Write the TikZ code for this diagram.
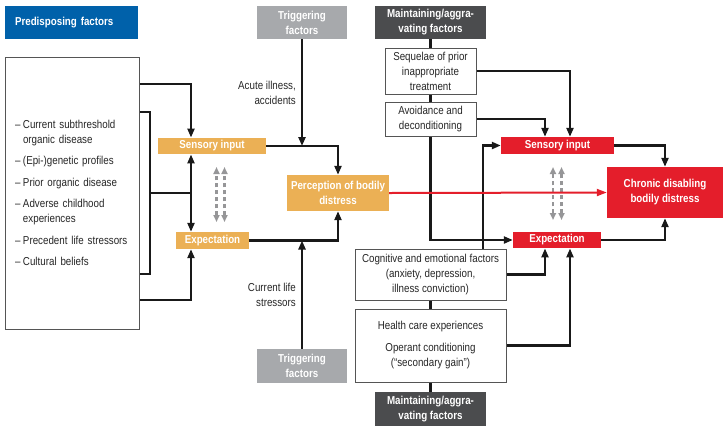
\documentclass[tikz,border=0pt]{standalone}
\usepackage{fontspec}
\setmainfont{Liberation Sans}[FakeStretch=0.85]
\usetikzlibrary{arrows.meta,calc}
\definecolor{cblue}{RGB}{0,97,170}
\definecolor{corange}{RGB}{235,176,85}
\definecolor{cred}{RGB}{228,30,43}
\definecolor{cgrayL}{RGB}{167,169,172}
\definecolor{cgrayD}{RGB}{75,76,78}
\definecolor{cborder}{RGB}{85,85,85}
\definecolor{cdash}{RGB}{150,150,152}
\pgfdeclarelayer{bg}
\pgfsetlayers{bg,main}
\begin{document}
\begin{tikzpicture}[x=1pt,y=-1pt,
  font=\fontsize{11.5}{15}\selectfont,
  hdr/.style={fill=#1, text=white, font=\fontsize{11.5}{15}\selectfont\bfseries, align=center, inner sep=0pt},
  wbox/.style={draw=cborder, fill=white, line width=0.9pt, align=center, inner sep=0pt, text=black!85},
  conn/.style={line width=2.2pt, black!90},
  arr/.style={conn, -{Triangle[length=9pt,width=7pt]}},
  redarr/.style={line width=2pt, cred, -{Triangle[length=10pt,width=7pt]}},
  dasharr/.style={line width=2.6pt, cdash, dash pattern=on 4.5pt off 2.5pt,
     {Triangle[length=7pt,width=6pt]}-{Triangle[length=7pt,width=6pt]}},
  lbl/.style={align=right, inner sep=0pt, anchor=east, text=black!85}]
\useasboundingbox (0,0) rectangle (728,432);

% header boxes
\node[hdr=cblue, minimum width=133pt, minimum height=33pt, text width=113pt, align=left] (pred) at (71.5,22.5) {Predisposing factors};
\node[hdr=cgrayL, minimum width=90pt, minimum height=33pt] (trigT) at (302,22.5) {Triggering\\factors};
\node[hdr=cgrayD, minimum width=111pt, minimum height=33pt] (maintT) at (430.5,22.5) {Maintaining/aggra-\\vating factors};
\node[hdr=cgrayL, minimum width=90pt, minimum height=34pt] (trigB) at (302,366) {Triggering\\factors};
\node[hdr=cgrayD, minimum width=111pt, minimum height=34pt] (maintB) at (430.5,409) {Maintaining/aggra-\\vating factors};

% left list box
\node[wbox, minimum width=134pt, minimum height=272pt, text width=114pt, align=left] (lbox) at (72,193) {%
\makebox[8pt][l]{–}Current subthreshold\\
\hspace*{8pt}organic disease\\[6.5pt]
\makebox[8pt][l]{–}(Epi-)genetic profiles\\[6.5pt]
\makebox[8pt][l]{–}Prior organic disease\\[6.5pt]
\makebox[8pt][l]{–}Adverse childhood\\
\hspace*{8pt}experiences\\[6.5pt]
\makebox[8pt][l]{–}Precedent life stressors\\[6.5pt]
\makebox[8pt][l]{–}Cultural beliefs};

% orange nodes
\node[hdr=corange, minimum width=108pt, minimum height=16.5pt] (sensO) at (212,146) {Sensory input};
\node[hdr=corange, minimum width=73pt, minimum height=17pt] (expO) at (212.5,240.5) {Expectation};
\node[hdr=corange, minimum width=102pt, minimum height=36pt] (perc) at (338,193) {Perception of bodily\\distress};

% red nodes
\node[hdr=cred, minimum width=113pt, minimum height=17pt] (sensR) at (557.5,145.5) {Sensory input};
\node[hdr=cred, minimum width=88pt, minimum height=16.5pt] (expR) at (557,240) {Expectation};
\node[hdr=cred, minimum width=116pt, minimum height=51pt] (chron) at (665,192.5) {Chronic disabling\\bodily distress};

% maintaining factor boxes
\node[wbox, minimum width=91pt, minimum height=46pt] (seq) at (430.5,71) {Sequelae of prior\\inappropriate\\treatment};
\node[wbox, minimum width=91pt, minimum height=34pt] (avoid) at (430.5,119) {Avoidance and\\deconditioning};
\node[wbox, minimum width=151pt, minimum height=51pt] (cog) at (430.5,274.5) {Cognitive and emotional factors\\(anxiety, depression,\\illness conviction)};
\node[wbox, minimum width=151pt, minimum height=73pt] (health) at (430.5,345.5) {Health care experiences\\[7pt]Operant conditioning\\(“secondary gain”)};

% labels
\node[lbl] (acute) at (296,92.5) {Acute illness,\\accidents};
\node[lbl] (curr) at (296,294.5) {Current life\\stressors};

% helper coordinates
\coordinate (h1) at (0,84);
\coordinate (h2) at (0,112);
\coordinate (h3) at (0,193);
\coordinate (h4) at (0,274);
\coordinate (h5) at (0,300);
\coordinate (vA) at (191,0);
\coordinate (vB) at (150,0);
\coordinate (vC) at (483,0);
\coordinate (vD) at (545,0);
\coordinate (vE) at (570,0);
\coordinate (jn) at (191,193);
\coordinate (d1t) at (216.5,167); \coordinate (d1b) at (216.5,222);
\coordinate (d2t) at (224.5,167); \coordinate (d2b) at (224.5,222);
\coordinate (d3t) at (553,167);   \coordinate (d3b) at (553,220);
\coordinate (d4t) at (561.5,167); \coordinate (d4b) at (561.5,220);

\begin{pgfonlayer}{bg}
\draw[arr] (lbox.east |- h1) -| (sensO.north -| vA);
\draw[conn] (lbox.east |- h2) -| (vB |- h4) -- (lbox.east |- h4);
\draw[conn] (vB |- h3) -- (jn);
\draw[arr] (jn) -- (sensO.south -| vA);
\draw[arr] (jn) -- (expO.north -| vA);
\draw[arr] (lbox.east |- h5) -| (expO.south -| vA);
\draw[arr] (sensO.east) -| (perc.north);
\draw[arr] (trigT.south) -- (trigT.south |- sensO.east);
\draw[arr] (expO.east) -| (perc.south);
\draw[arr] (trigB.north) -- (trigB.north |- expO.east);
\draw[arr] (maintT.south) |- (expR.west);
\draw[arr] (seq.east) -| (sensR.north -| vE);
\draw[arr] (avoid.east) -| (sensR.north -| vD);
\draw[arr] (cog.north -| vC) |- (sensR.west);
\draw[arr] (cog.east) -| (expR.south -| vD);
\draw[arr] (health.east) -| (expR.south -| vE);
\draw[arr] (sensR.east) -| (chron.north);
\draw[arr] (expR.east) -| (chron.south);
\draw[conn] (cog.south) -- (health.north);
\draw[conn] (health.south) -- (maintB.north);
\draw[dasharr] (d1b) -- (d1t);
\draw[dasharr] (d2b) -- (d2t);
\draw[dasharr] (d3b) -- (d3t);
\draw[dasharr] (d4b) -- (d4t);
\draw[redarr] (perc.east) -- (chron.west);
\end{pgfonlayer}
\end{tikzpicture}
\end{document}
